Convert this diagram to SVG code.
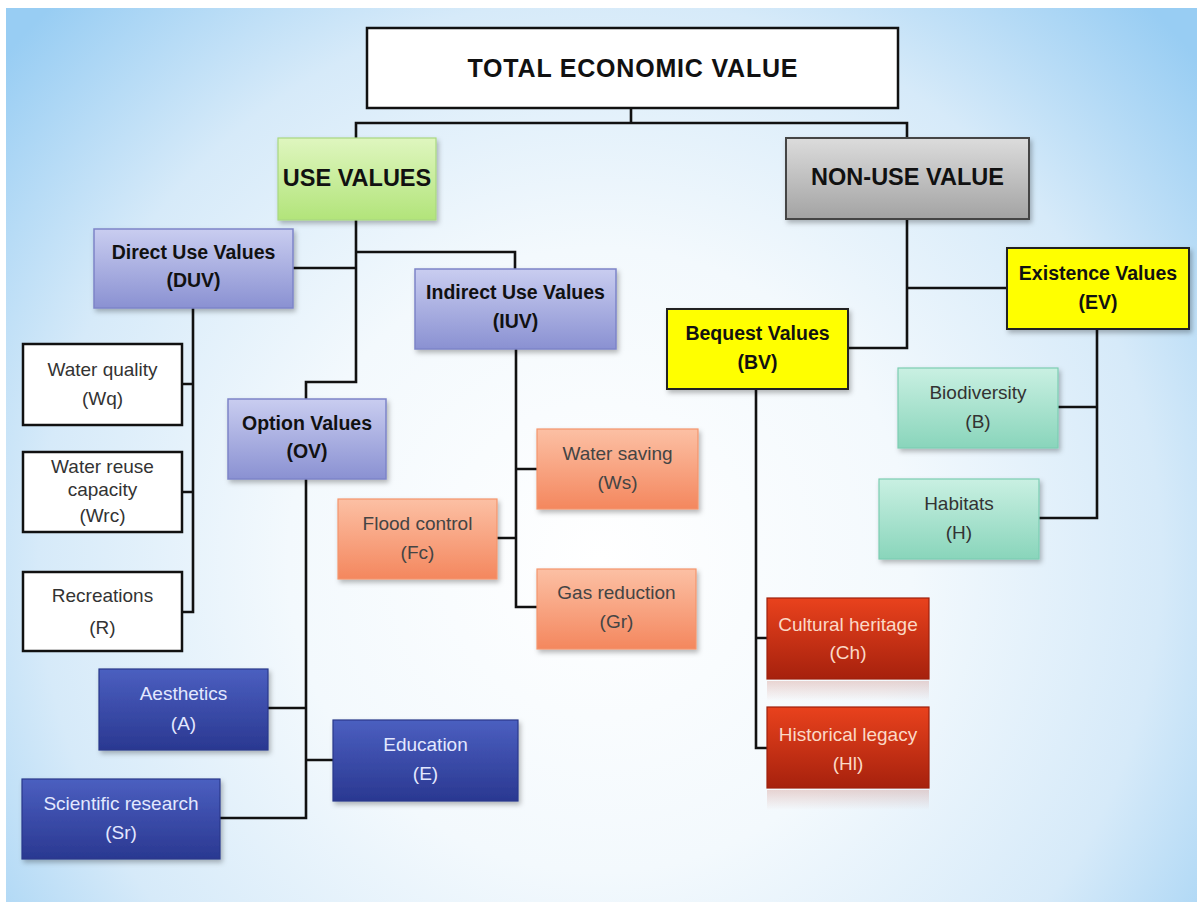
<svg xmlns="http://www.w3.org/2000/svg" width="1197" height="904" viewBox="0 0 1197 904">
<defs>
<radialGradient id="bg" cx="600" cy="560" r="780" gradientUnits="userSpaceOnUse">
<stop offset="0" stop-color="#ffffff"/>
<stop offset="0.4" stop-color="#f3f9fd"/>
<stop offset="0.72" stop-color="#d6eaf9"/>
<stop offset="1" stop-color="#98cdf3"/>
</radialGradient>
<linearGradient id="gGreen" x1="0" y1="0" x2="0" y2="1"><stop offset="0" stop-color="#dff6bf"/><stop offset="1" stop-color="#b2e47a"/></linearGradient>
<linearGradient id="gGray" x1="0" y1="0" x2="0" y2="1"><stop offset="0" stop-color="#dcdcdc"/><stop offset="1" stop-color="#a3a3a3"/></linearGradient>
<linearGradient id="gPurple" x1="0" y1="0" x2="0" y2="1"><stop offset="0" stop-color="#c9cdf0"/><stop offset="1" stop-color="#8a91d2"/></linearGradient>
<linearGradient id="gOrange" x1="0" y1="0" x2="0" y2="1"><stop offset="0" stop-color="#fcc0a4"/><stop offset="1" stop-color="#f4875e"/></linearGradient>
<linearGradient id="gTeal" x1="0" y1="0" x2="0" y2="1"><stop offset="0" stop-color="#c9f0e2"/><stop offset="1" stop-color="#89d5bb"/></linearGradient>
<linearGradient id="gBlue" x1="0" y1="0" x2="0" y2="1"><stop offset="0" stop-color="#4b5fc0"/><stop offset="1" stop-color="#2a3891"/></linearGradient>
<linearGradient id="gRed" x1="0" y1="0" x2="0" y2="1"><stop offset="0" stop-color="#e9421d"/><stop offset="1" stop-color="#a6210d"/></linearGradient>
<linearGradient id="gRefl" x1="0" y1="0" x2="0" y2="1"><stop offset="0" stop-color="#c0604f" stop-opacity="0.25"/><stop offset="1" stop-color="#c0604f" stop-opacity="0"/></linearGradient>
<filter id="sh" x="-10%" y="-10%" width="130%" height="140%"><feDropShadow dx="2" dy="3" stdDeviation="2.5" flood-color="#000" flood-opacity="0.28"/></filter>
</defs>
<style>
text{font-family:"Liberation Sans",Arial,sans-serif;text-anchor:middle}
.b{font-weight:bold;font-size:19.5px;fill:#111}
.r{font-size:19px;fill:#333}
.big{font-weight:bold;font-size:23.5px;fill:#111}
.lt{font-size:19px;fill:#e3e8ff}
.rd{font-size:19px;fill:#fbd9c6}
.wh{fill:#ffffff;stroke:#111;stroke-width:2.5}
.ye{fill:#ffff00;stroke:#222;stroke-width:2}
.pu{fill:url(#gPurple);stroke:#7d84c8;stroke-width:1.5}
.gn{fill:url(#gGreen);stroke:#a8d880;stroke-width:1.2}
.gy{fill:url(#gGray);stroke:#444;stroke-width:2}
.or{fill:url(#gOrange);stroke:#f3956d;stroke-width:1.2}
.tl{fill:url(#gTeal);stroke:#7ccdb2;stroke-width:1.2}
.bl{fill:url(#gBlue);stroke:#2a388a;stroke-width:1.2}
.rdb{fill:url(#gRed);stroke:#9e200c;stroke-width:1.2}
.c{fill:none;stroke:#111;stroke-width:2.6}
</style>
<rect x="0" y="0" width="1197" height="904" fill="#ffffff"/>
<rect x="6" y="8" width="1191" height="894" fill="url(#bg)"/>

<g id="connectors">
<path class="c" d="M631 108 V123 M356 138 V123 H907 V138"/>
<path class="c" d="M356 220 V382 H306 V399 M356 252 H515 V269 M293 268 H356"/>
<path class="c" d="M193 308 V612 H182 M182 384 H193 M182 492 H193"/>
<path class="c" d="M516 349 V607 H537 M516 469 H537 M497 538 H516"/>
<path class="c" d="M306 479 V818 H220 M268 708 H306 M306 760 H333"/>
<path class="c" d="M907 219 V348 H848 M907 288 H1007"/>
<path class="c" d="M1097 329 V518 H1039 M1058 407 H1097"/>
<path class="c" d="M756 389 V748 H767 M756 638 H767"/>
</g>

<g id="tev"><rect class="wh" x="367" y="28" width="531" height="80"/><text x="632.5" y="77" style="font-weight:bold;font-size:25px;fill:#111" textLength="330">TOTAL ECONOMIC  VALUE</text></g>
<g id="use"><rect class="gn" x="278" y="138" width="158" height="82" filter="url(#sh)"/><text class="big" x="357" y="186">USE VALUES</text></g>
<g id="nonuse"><rect class="gy" x="786" y="138" width="243" height="81" filter="url(#sh)"/><text class="big" x="907.5" y="185">NON-USE VALUE</text></g>

<g id="duv"><rect class="pu" x="94" y="229" width="199" height="79" filter="url(#sh)"/><text class="b" x="193.5" y="259">Direct Use Values</text><text class="b" x="193.5" y="287">(DUV)</text></g>
<g id="iuv"><rect class="pu" x="415" y="269" width="201" height="80" filter="url(#sh)"/><text class="b" x="515.5" y="299">Indirect Use Values</text><text class="b" x="515.5" y="328">(IUV)</text></g>
<g id="ov"><rect class="pu" x="228" y="399" width="158" height="80" filter="url(#sh)"/><text class="b" x="307" y="430">Option Values</text><text class="b" x="307" y="458">(OV)</text></g>

<g id="wq"><rect class="wh" x="23" y="344" width="159" height="81"/><text class="r" x="102.5" y="376">Water quality</text><text class="r" x="102.5" y="405">(Wq)</text></g>
<g id="wrc"><rect class="wh" x="23" y="452" width="159" height="80"/><text class="r" x="102.5" y="473">Water reuse</text><text class="r" x="102.5" y="496">capacity</text><text class="r" x="102.5" y="522">(Wrc)</text></g>
<g id="rec"><rect class="wh" x="23" y="572" width="159" height="79"/><text class="r" x="102.5" y="602">Recreations</text><text class="r" x="102.5" y="634">(R)</text></g>

<g id="ws"><rect class="or" x="537" y="429" width="161" height="80" filter="url(#sh)"/><text class="r" x="617.5" y="460" style="fill:#444">Water saving</text><text class="r" x="617.5" y="489" style="fill:#444">(Ws)</text></g>
<g id="fc"><rect class="or" x="338" y="499" width="159" height="80" filter="url(#sh)"/><text class="r" x="417.5" y="530" style="fill:#444">Flood control</text><text class="r" x="417.5" y="559" style="fill:#444">(Fc)</text></g>
<g id="gr"><rect class="or" x="537" y="569" width="159" height="80" filter="url(#sh)"/><text class="r" x="616.5" y="599" style="fill:#444">Gas reduction</text><text class="r" x="616.5" y="628" style="fill:#444">(Gr)</text></g>

<g id="ae"><rect class="bl" x="99" y="669" width="169" height="81" filter="url(#sh)"/><text class="lt" x="183.5" y="700">Aesthetics</text><text class="lt" x="183.5" y="730">(A)</text></g>
<g id="ed"><rect class="bl" x="333" y="720" width="185" height="81" filter="url(#sh)"/><text class="lt" x="425.5" y="751">Education</text><text class="lt" x="425.5" y="780">(E)</text></g>
<g id="sr"><rect class="bl" x="22" y="779" width="198" height="80" filter="url(#sh)"/><text class="lt" x="121" y="810">Scientific research</text><text class="lt" x="121" y="839">(Sr)</text></g>

<g id="ev"><rect class="ye" x="1007" y="248" width="182" height="81" filter="url(#sh)"/><text class="b" x="1098" y="280">Existence Values</text><text class="b" x="1098" y="309">(EV)</text></g>
<g id="bv"><rect class="ye" x="667" y="309" width="181" height="80" filter="url(#sh)"/><text class="b" x="757.5" y="340">Bequest Values</text><text class="b" x="757.5" y="369">(BV)</text></g>

<g id="bio"><rect class="tl" x="898" y="368" width="160" height="80" filter="url(#sh)"/><text class="r" x="978" y="399">Biodiversity</text><text class="r" x="978" y="428">(B)</text></g>
<g id="hab"><rect class="tl" x="879" y="479" width="160" height="80" filter="url(#sh)"/><text class="r" x="959" y="510">Habitats</text><text class="r" x="959" y="539">(H)</text></g>

<g id="ch"><rect fill="url(#gRefl)" x="767" y="681" width="162" height="20"/><rect class="rdb" x="767" y="598" width="162" height="81"/><text class="rd" x="848" y="631">Cultural  heritage</text><text class="rd" x="848" y="659">(Ch)</text></g>
<g id="hl"><rect fill="url(#gRefl)" x="767" y="790" width="162" height="20"/><rect class="rdb" x="767" y="707" width="162" height="81"/><text class="rd" x="848" y="741">Historical legacy</text><text class="rd" x="848" y="770">(Hl)</text></g>
</svg>
